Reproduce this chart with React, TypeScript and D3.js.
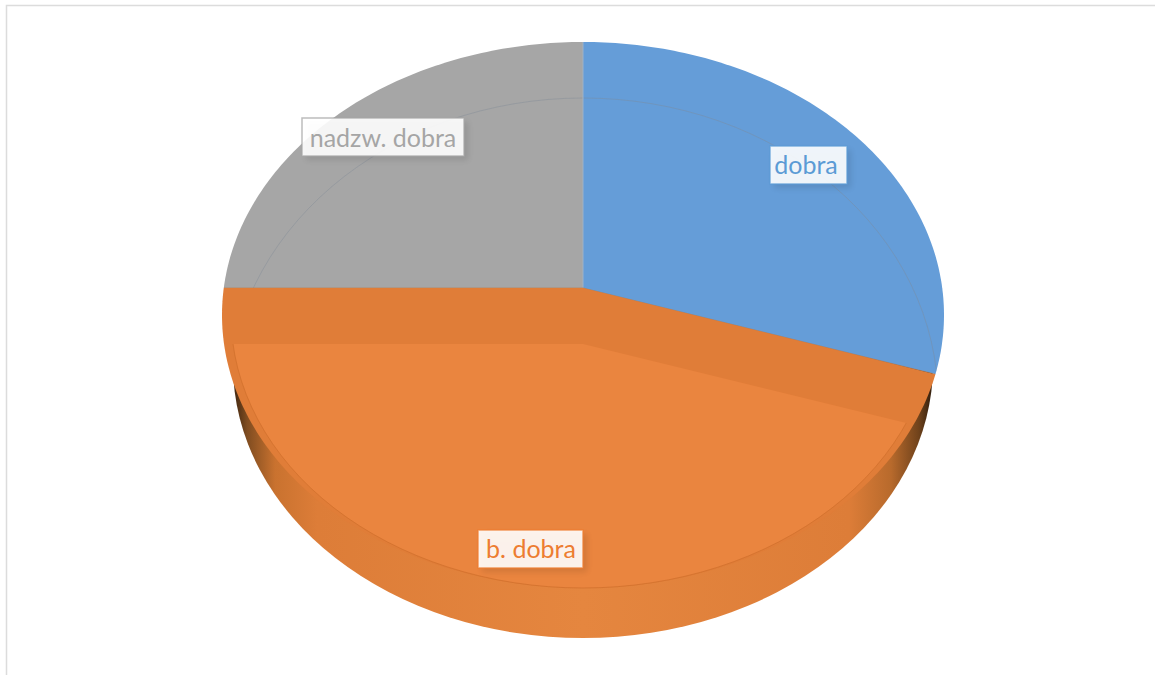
import React from "react";
import * as d3 from "d3";

const categories = ["dobra", "b. dobra", "nadzw. dobra"];
const values = [30, 45, 25];
const colors = ["#659DD8", "#E07D38", "#A6A6A6"];
const textColors = ["#5B9BD5", "#ED7D31", "#A5A5A5"];
const labelBoxes = [
  { x: 770, y: 146, w: 77, h: 38, tx: 806, ty: 174 },
  { x: 478, y: 530, w: 105, h: 38, tx: 531, ty: 558 },
  { x: 302, y: 118, w: 162, h: 38, tx: 383, ty: 147 },
];

const W = 1155, H = 675;
const CX = 583, CY = 315, RX = 361, RY = 273;
const TILT = -0.099;
const DEPTH = 50, FACE_DROP = 56;

// perspective projection of a unit-disc point onto the tilted ellipse
function project(u: number, v: number, dy = 0): [number, number] {
  const den = 1 + TILT * v;
  const x = (u * Math.sqrt(1 - TILT * TILT)) / den;
  const y = (v + TILT) / den;
  return [CX + RX * x, CY + RY * y + dy];
}

const pieGen = d3.pie<number>().sort(null);
const arcs = pieGen(values);
const lineGen = d3.line();

function slicePath(a0: number, a1: number, dy = 0) {
  const n = Math.max(4, Math.ceil((a1 - a0) * 60));
  const pts: [number, number][] = [project(0, 0, dy)];
  d3.range(n + 1).forEach((i) => {
    const a = a0 + ((a1 - a0) * i) / n;
    pts.push(project(Math.sin(a), -Math.cos(a), dy));
  });
  return lineGen(pts) + "Z";
}

const fontFamily = "Lato, 'Open Sans', sans-serif";

export default function App() {
  const orange = arcs[1];
  return (
    <svg
      width={W}
      height={H}
      viewBox={`0 0 ${W} ${H}`}
      style={{ position: "absolute", left: 0, top: 0, background: "#fff" }}
    >
      <defs>
        <linearGradient id="side" x1="0" x2="1" y1="0" y2="0">
          <stop offset="0" stopColor="#3d2510" />
          <stop offset="0.02" stopColor="#7f4c20" />
          <stop offset="0.06" stopColor="#C9722F" />
          <stop offset="0.12" stopColor="#DD7D38" />
          <stop offset="0.5" stopColor="#E5863F" />
          <stop offset="0.88" stopColor="#DD7D38" />
          <stop offset="0.94" stopColor="#B86A2C" />
          <stop offset="0.98" stopColor="#6f421b" />
          <stop offset="1" stopColor="#2e1c0c" />
        </linearGradient>
        <clipPath id="faceClip">
          <ellipse cx={CX} cy={CY} rx={RX - 9} ry={RY} />
        </clipPath>
        <clipPath id="faceWedge">
          <path d={slicePath(orange.startAngle, orange.endAngle, FACE_DROP)} />
        </clipPath>
        <clipPath id="backClip">
          <path d={slicePath(arcs[0].startAngle, arcs[0].endAngle)} />
          <path d={slicePath(arcs[2].startAngle, arcs[2].endAngle)} />
        </clipPath>
        <filter id="shadow" x="-20%" y="-30%" width="150%" height="170%">
          <feGaussianBlur stdDeviation="3" />
        </filter>
      </defs>

      <path d={`M6.5 ${H}V5.5H${W}`} fill="none" stroke="#DCDCDC" strokeWidth={1.5} />

      <ellipse cx={CX} cy={CY + DEPTH} rx={RX - 11} ry={RY} fill="url(#side)" />

      {arcs.map((d, i) => (
        <path
          key={categories[i]}
          d={slicePath(d.startAngle, d.endAngle)}
          fill={colors[i]}
        />
      ))}

      <g clipPath="url(#backClip)">
        <ellipse
          cx={CX}
          cy={CY + 85}
          rx={355}
          ry={302}
          fill="none"
          stroke="#7f8a96"
          strokeOpacity={0.4}
          strokeWidth={1}
        />
      </g>

      <line x1={CX} x2={CX} y1={CY - RY} y2={project(0, 0)[1]} stroke="#9fb2c6" strokeWidth={1} />
      <path
        d={slicePath(orange.startAngle, orange.endAngle)}
        fill="none"
        stroke="#B9743F"
        strokeOpacity={0.55}
        strokeWidth={1}
        clipPath="url(#backClip)"
      />

      <g clipPath="url(#faceClip)">
        <path d={slicePath(orange.startAngle, orange.endAngle, FACE_DROP)} fill="#EA853F" />
      </g>
      <g clipPath="url(#faceWedge)">
        <ellipse
          cx={CX}
          cy={CY}
          rx={RX - 9}
          ry={RY}
          fill="none"
          stroke="#CF6F2C"
          strokeOpacity={0.7}
          strokeWidth={1}
        />
      </g>

      {categories.map((c, i) => {
        const b = labelBoxes[i];
        return (
          <g key={c}>
            <rect x={b.x + 4} y={b.y + 4} width={b.w} height={b.h} fill="#000" opacity={0.1} filter="url(#shadow)" />
            <rect
              x={b.x}
              y={b.y}
              width={b.w}
              height={b.h}
              fill="#fff"
              fillOpacity={0.9}
              stroke={textColors[i]}
              strokeOpacity={0.75}
              strokeWidth={1.5}
            />
            <text
              x={b.tx}
              y={b.ty}
              textAnchor="middle"
              fontFamily={fontFamily}
              fontSize={25}
              fill={textColors[i]}
            >
              {c}
            </text>
          </g>
        );
      })}
    </svg>
  );
}
